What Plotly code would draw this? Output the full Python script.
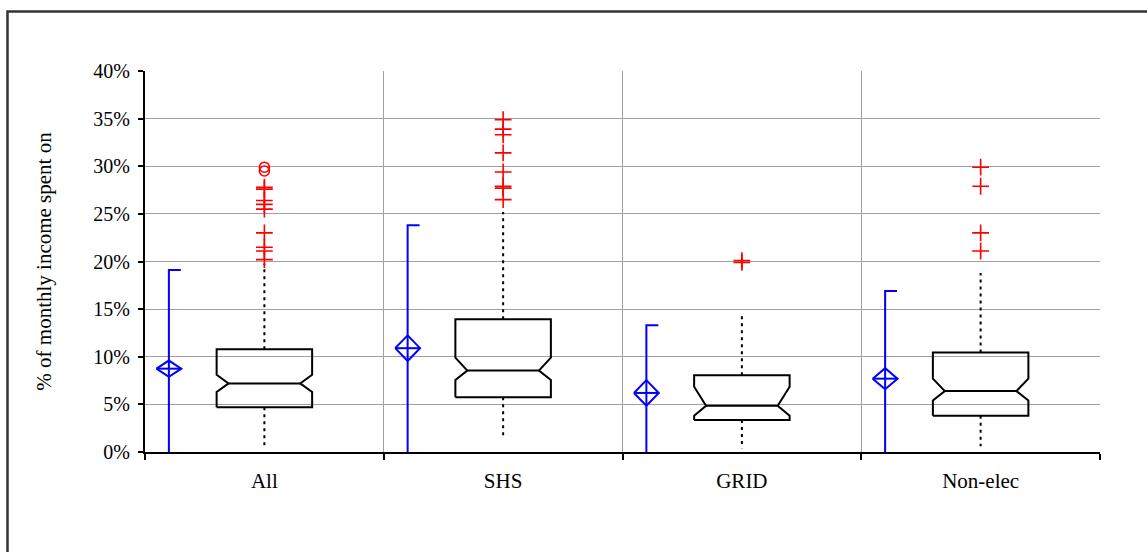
import plotly.graph_objects as go

# Groups and summary statistics (% of monthly income)
groups = ["All", "SHS", "GRID", "Non-elec"]
q1 = [4.7, 5.75, 3.35, 3.8]
median = [7.2, 8.55, 4.85, 6.4]
q3 = [10.8, 13.95, 8.05, 10.45]
notch_lo = [6.3, 7.55, 3.8, 5.4]
notch_hi = [8.1, 9.9, 6.85, 7.7]
whisker_lo = [0.4, 1.6, 0.4, 0.6]
whisker_hi = [19.8, 25.2, 14.3, 18.8]

# Outliers per group
outliers_all = [27.8, 27.6, 26.4, 26.0, 25.5, 23.0, 21.5, 21.1, 20.2]
outliers_shs = [34.9, 33.9, 33.3, 31.4, 29.4, 27.9, 27.7, 26.5]
outliers_grid = [20.1, 19.9]
outliers_nonelec = [29.9, 27.9, 23.0, 21.1]
far_outliers_all = [29.9, 29.5]

# Mean with confidence interval and the range bar
mean = [8.75, 10.9, 6.2, 7.7]
mean_ci = [0.85, 1.35, 1.35, 1.1]
range_lo = [0.0, 0.0, 0.0, 0.0]
range_hi = [19.1, 23.8, 13.3, 16.9]

outliers = [outliers_all, outliers_shs, outliers_grid, outliers_nonelec]

BOX_HW = 0.2       # half width of the box
NOTCH_HW = 0.15    # half width at the notch waist
BAR_OFF = -0.40    # offset of the mean/range bar from the group centre
CAP = 0.05
DIA_HW = 0.052
RED = "#ff0000"
BLUE = "#0000ff"

fig = go.Figure()

for i, name in enumerate(groups):
    c = i
    # notched box outline + median line
    bx = [c - BOX_HW, c + BOX_HW, c + BOX_HW, c + NOTCH_HW, c + BOX_HW, c + BOX_HW,
          c - BOX_HW, c - BOX_HW, c - NOTCH_HW, c - BOX_HW, c - BOX_HW,
          None, c - NOTCH_HW, c + NOTCH_HW]
    by = [q1[i], q1[i], notch_lo[i], median[i], notch_hi[i], q3[i],
          q3[i], notch_hi[i], median[i], notch_lo[i], q1[i],
          None, median[i], median[i]]
    fig.add_trace(go.Scatter(x=bx, y=by, mode="lines",
                             line=dict(color="black", width=2), hoverinfo="skip"))
    # dotted whiskers
    fig.add_trace(go.Scatter(x=[c, c, None, c, c],
                             y=[q3[i], whisker_hi[i], None, q1[i], whisker_lo[i]],
                             mode="lines",
                             line=dict(color="black", width=2, dash="3px,4px"),
                             hoverinfo="skip"))
    # outliers
    fig.add_trace(go.Scatter(x=[c] * len(outliers[i]), y=outliers[i], mode="markers",
                             marker=dict(symbol="cross-thin-open", size=12, color=RED,
                                         line=dict(color=RED, width=1.6)),
                             hoverinfo="y"))
    # range bar with cap
    bxp = c + BAR_OFF
    fig.add_trace(go.Scatter(x=[bxp, bxp, bxp + CAP], y=[range_lo[i], range_hi[i], range_hi[i]],
                             mode="lines", line=dict(color=BLUE, width=2),
                             hoverinfo="skip"))
    # mean diamond with cross
    m, ci = mean[i], mean_ci[i]
    fig.add_trace(go.Scatter(
        x=[bxp - DIA_HW, bxp, bxp + DIA_HW, bxp, bxp - DIA_HW, None, bxp - DIA_HW, bxp + DIA_HW],
        y=[m, m + ci, m, m - ci, m, None, m, m],
        mode="lines", line=dict(color=BLUE, width=2), hoverinfo="skip"))

# far outliers (circles)
fig.add_trace(go.Scatter(x=[0] * len(far_outliers_all), y=far_outliers_all, mode="markers",
                         marker=dict(symbol="circle-open", size=10, color=RED,
                                     line=dict(color=RED, width=1.6)),
                         hoverinfo="y"))

W, H = 1147, 552
L, R, T, B = 145, 47, 71, 100
pw, ph = W - L - R, H - T - B

def px_x(x):
    return (x - L) / pw

def px_y(y):
    return (H - B - y) / ph

GRID_COLOR = "#a0a0a0"
FONT = "Liberation Serif"

fig.update_layout(
    width=W, height=H,
    margin=dict(l=L, r=R, t=T, b=B, pad=0),
    paper_bgcolor="white", plot_bgcolor="white",
    showlegend=False,
    font=dict(family=FONT, color="black", size=20),
    xaxis=dict(
        range=[-0.5, 3.5],
        tickvals=list(range(len(groups))), ticktext=groups,
        ticks="", showgrid=False, zeroline=False,
        showline=True, linecolor="black", linewidth=2,
        tickfont=dict(family=FONT, size=21, color="black"),
        ticklabelstandoff=9,
        minor=dict(tickvals=[-0.5, 0.5, 1.5, 2.5, 3.5], ticks="outside", ticklen=6,
                   tickwidth=1.5, tickcolor="black",
                   showgrid=True, gridcolor=GRID_COLOR, gridwidth=1),
    ),
    yaxis=dict(
        range=[0, 40], dtick=5, ticksuffix="%",
        ticks="outside", ticklen=5, tickwidth=1.5, tickcolor="black",
        showline=True, linecolor="black", linewidth=2,
        showgrid=True, gridcolor=GRID_COLOR, gridwidth=1, zeroline=False,
        tickfont=dict(family=FONT, size=20, color="black"),
        ticklabelstandoff=4,
        title=dict(text="% of monthly income spent on", standoff=36,
                   font=dict(family=FONT, size=21, color="black")),
    ),
    shapes=[dict(type="rect", xref="paper", yref="paper",
                 x0=px_x(7.5), x1=px_x(W + 40), y0=px_y(H + 40), y1=px_y(11.5),
                 line=dict(color="#333333", width=2.5), layer="above")],
)

fig.write_html("out.html")
